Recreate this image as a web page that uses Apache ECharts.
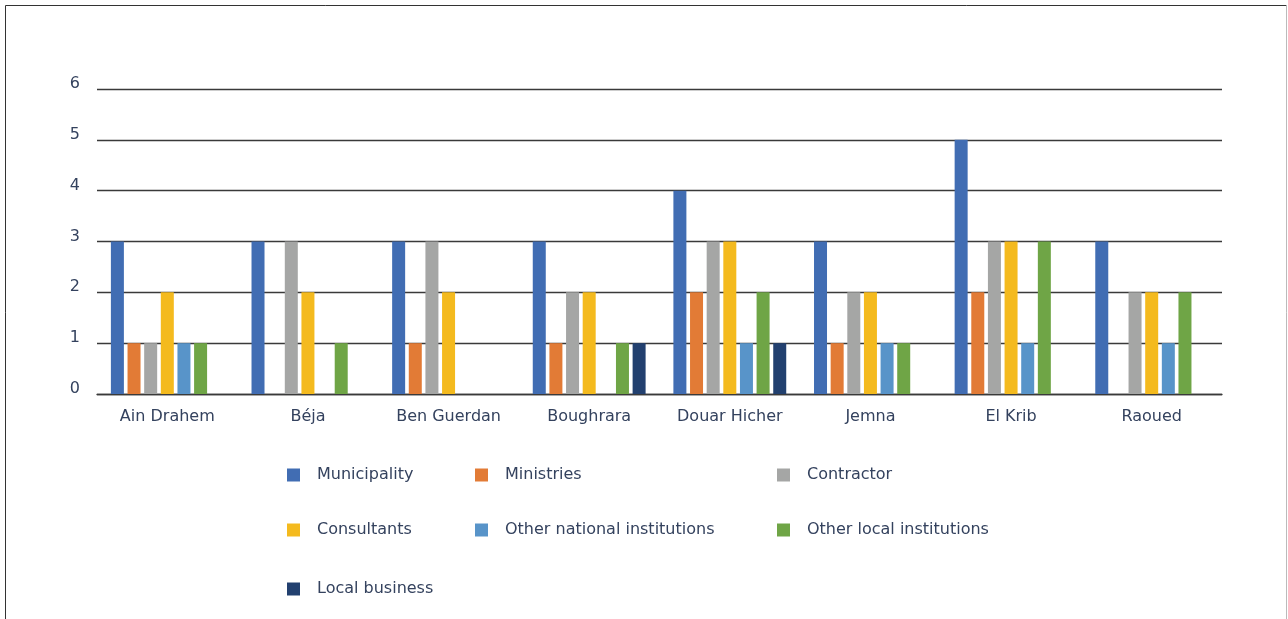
<!DOCTYPE html>
<html>
<head>
<meta charset="utf-8">
<script src="https://cdn.jsdelivr.net/npm/echarts@6/dist/echarts.min.js"></script>
<style>
  html, body { margin: 0; padding: 0; background: #ffffff; }
  #chart { width: 1288px; height: 619px; }
</style>
</head>
<body>
<div id="chart"></div>
<script>
// Sites surveyed
const categories = ['Ain Drahem', 'Béja', 'Ben Guerdan', 'Boughrara', 'Douar Hicher', 'Jemna', 'El Krib', 'Raoued'];

// Number of mentions per actor type
const municipality = [3, 3, 3, 3, 4, 3, 5, 3];
const ministries = [1, 0, 1, 1, 2, 1, 2, 0];
const contractor = [1, 3, 3, 2, 3, 2, 3, 2];
const consultants = [2, 2, 2, 2, 3, 2, 3, 2];
const otherNational = [1, 0, 0, 0, 1, 1, 1, 1];
const otherLocal = [1, 1, 0, 1, 2, 1, 3, 2];
const localBusiness = [0, 0, 0, 1, 1, 0, 0, 0];

const seriesNames = ['Municipality', 'Ministries', 'Contractor', 'Consultants',
  'Other national institutions', 'Other local institutions', 'Local business'];
const seriesValues = [municipality, ministries, contractor, consultants, otherNational, otherLocal, localBusiness];
const colors = ['#416db3', '#e27b36', '#a5a6a5', '#f4ba1e', '#5894c9', '#6fa546', '#22406f'];

const FONT = 'DejaVu Sans';
const TEXT = '#34425e';

// legend item placement (three columns, three rows)
const legendPos = [
  [287, 467], [475, 467], [777, 467],
  [287, 522], [475, 522], [777, 522],
  [287, 581]
];

const chart = echarts.init(document.getElementById('chart'));
chart.setOption({
  animation: false,
  color: colors,
  grid: { left: 97, right: 66, top: 89, bottom: 225, containLabel: false },
  legend: seriesNames.map((n, i) => ({
    data: [n],
    left: legendPos[i][0],
    top: legendPos[i][1],
    itemWidth: 13,
    itemHeight: 13,
    icon: 'rect',
    padding: 0,
    textStyle: { color: TEXT, fontFamily: FONT, fontSize: 16, padding: [0, 0, 0, 12] },
    selectedMode: false
  })),
  xAxis: {
    type: 'category',
    data: categories,
    axisTick: { show: false },
    axisLine: { lineStyle: { color: '#3a3a3a', width: 1.3 } },
    axisLabel: { color: TEXT, fontFamily: FONT, fontSize: 16, margin: 15 }
  },
  yAxis: {
    type: 'value',
    min: 0,
    max: 6,
    interval: 1,
    axisLine: { show: false },
    axisTick: { show: false },
    splitLine: { lineStyle: { color: '#3a3a3a', width: 1.3 } },
    axisLabel: { color: TEXT, fontFamily: FONT, fontSize: 16, margin: 17, verticalAlign: 'bottom', lineHeight: 10 }
  },
  series: seriesNames.map((n, i) => ({
    name: n,
    type: 'bar',
    data: seriesValues[i],
    barWidth: 13,
    barGap: '28%',
    itemStyle: { color: colors[i] }
  })),
  graphic: [
    { type: 'line', shape: { x1: 5.5, y1: 5.5, x2: 5.5, y2: 619 }, style: { stroke: '#333', lineWidth: 1 } },
    { type: 'line', shape: { x1: 5.5, y1: 5.5, x2: 1286.5, y2: 5.5 }, style: { stroke: '#333', lineWidth: 1 } },
    { type: 'line', shape: { x1: 1286.5, y1: 5.5, x2: 1286.5, y2: 619 }, style: { stroke: '#bbb', lineWidth: 1 } }
  ]
});
</script>
</body>
</html>
